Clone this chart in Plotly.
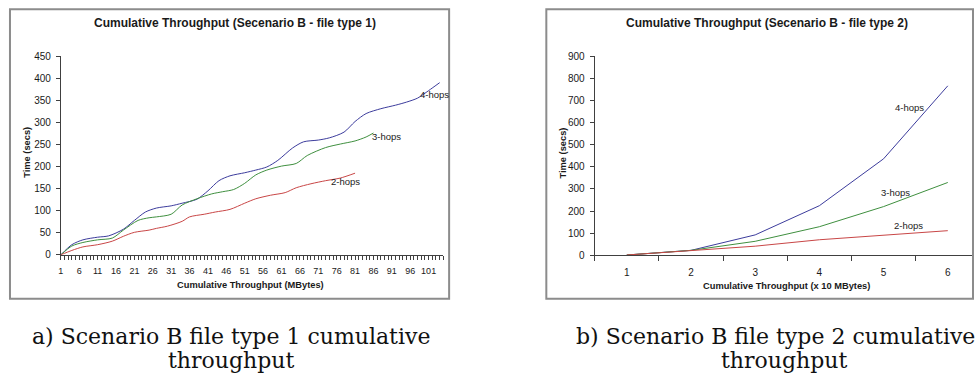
import plotly.graph_objects as go

# ---------------- data ----------------
# Panel a) : cumulative throughput (MBytes) vs time (secs), file type 1
a_hop4_x = [1, 4, 7, 11, 14, 18, 21, 24, 27, 31, 34, 38, 41, 44, 47, 51, 54, 57, 60, 64, 67, 71, 74, 78, 81, 84, 88, 92, 95, 98, 101, 104]
a_hop4_y = [0, 23, 34, 40, 43, 58, 78, 97, 106, 111, 117, 126, 145, 168, 179, 186, 192, 199, 214, 242, 256, 260, 265, 278, 302, 320, 331, 339, 346, 355, 372, 390]
a_hop3_x = [1, 4, 7, 11, 15, 18, 22, 25, 27, 31, 34, 38, 42, 45, 48, 51, 54, 57, 61, 65, 68, 73, 77, 81, 84, 86]
a_hop3_y = [0, 20, 28, 34, 38, 56, 78, 84, 86, 92, 113, 127, 138, 143, 148, 162, 181, 192, 201, 207, 225, 243, 251, 258, 267, 276]
a_hop2_x = [1, 4, 7, 11, 15, 18, 21, 25, 27, 30, 34, 36, 40, 43, 47, 51, 54, 58, 62, 65, 69, 73, 77, 81]
a_hop2_y = [0, 10, 18, 23, 31, 42, 51, 56, 60, 65, 76, 86, 92, 97, 103, 117, 127, 135, 141, 152, 161, 168, 174, 185]
a_xticks = [1, 6, 11, 16, 21, 26, 31, 36, 41, 46, 51, 56, 61, 66, 71, 76, 81, 86, 91, 96, 101]
a_yticks = [0, 50, 100, 150, 200, 250, 300, 350, 400, 450]

# Panel b) : cumulative throughput (x 10 MBytes) vs time (secs), file type 2
b_cats = [1, 2, 3, 4, 5, 6]
b_hop4 = [1, 22, 92, 224, 436, 766]
b_hop3 = [1, 22, 63, 129, 220, 329]
b_hop2 = [1, 21, 41, 70, 92, 111]
b_yticks = [0, 100, 200, 300, 400, 500, 600, 700, 800, 900]

series_names = ["4-hops", "3-hops", "2-hops"]
series_colors = ["#3c3c9c", "#3f8f3f", "#c84646"]

# ---------------- layout helpers ----------------
W, H = 975, 380
def px(x):
    return x / W
def py(y):
    return 1 - y / H

AX = "#404040"
TXT = "#1a1a1a"
SANS = "Liberation Sans, Arial, sans-serif"
SERIF = "DejaVu Serif, serif"

fig = go.Figure()

for xs, ys, name, col in zip([a_hop4_x, a_hop3_x, a_hop2_x], [a_hop4_y, a_hop3_y, a_hop2_y], series_names, series_colors):
    fig.add_trace(go.Scatter(x=xs, y=ys, mode="lines", name=name,
                             line=dict(color=col, width=1, shape="spline", smoothing=0.8),
                             xaxis="x", yaxis="y", showlegend=False, hoverinfo="skip"))
for ys, name, col in zip([b_hop4, b_hop3, b_hop2], series_names, series_colors):
    fig.add_trace(go.Scatter(x=b_cats, y=ys, mode="lines", name=name,
                             line=dict(color=col, width=1),
                             xaxis="x2", yaxis="y2", showlegend=False, hoverinfo="skip"))

axis_common = dict(showgrid=False, zeroline=False, showline=True, linecolor=AX, linewidth=1,
                   ticks="outside", tickcolor=AX, tickwidth=1, fixedrange=True)

fig.update_layout(
    width=W, height=H, margin=dict(l=0, r=0, t=0, b=0),
    paper_bgcolor="white", plot_bgcolor="white",
    xaxis=dict(axis_common, domain=[px(58), px(441.7)], range=[1, 105], anchor="y",
               tickmode="array", tickvals=a_xticks, ticktext=[str(v) for v in a_xticks],
               ticklen=4, tickfont=dict(family=SANS, size=9, color=TXT), ticklabelstandoff=3,
               minor=dict(tickmode="linear", tick0=1, dtick=1, ticks="outside", ticklen=4,
                          tickcolor=AX, tickwidth=1, showgrid=False)),
    yaxis=dict(axis_common, domain=[py(257.3), py(52.7)], range=[0, 450], anchor="x",
               tickmode="array", tickvals=a_yticks, ticklen=4,
               tickfont=dict(family=SANS, size=10, color=TXT), ticklabelstandoff=3),
    xaxis2=dict(axis_common, domain=[px(593.5), px(973)], range=[0.5, 0.5 + (973 - 593.5) / 64.4],
                anchor="y2", tickmode="array", tickvals=b_cats, ticktext=[str(v) for v in b_cats],
                ticks="", tickfont=dict(family=SANS, size=10, color=TXT), ticklabelstandoff=8,
                minor=dict(tickmode="linear", tick0=0.5, dtick=1, ticks="outside", ticklen=5,
                           tickcolor=AX, tickwidth=1, showgrid=False)),
    yaxis2=dict(axis_common, domain=[py(257.7), py(52.7)], range=[0, 900], anchor="x2",
                tickmode="array", tickvals=b_yticks, ticklen=4,
                tickfont=dict(family=SANS, size=10, color=TXT), ticklabelstandoff=3),
)

# panel borders
for x0, x1 in [(7, 447.5), (545, 973)]:
    fig.add_shape(type="rect", xref="paper", yref="paper",
                  x0=px(x0), x1=px(x1), y0=py(302.5), y1=py(4.5),
                  line=dict(color="#8c8c8c", width=2), fillcolor="rgba(0,0,0,0)", layer="above")

ann = []
def text(x, y, s, size, bold=False, angle=0, family=SANS, color=TXT):
    ann.append(dict(x=px(x), y=py(y), xref="paper", yref="paper", text=s, showarrow=False,
                    textangle=angle, xanchor="center", yanchor="middle",
                    font=dict(family=family, size=size, color=color, weight="bold" if bold else "normal")))

# titles
text(233, 19, "Cumulative Throughput (Secenario B - file type 1)", 12, bold=True)
text(766.7, 19, "Cumulative Throughput (Secenario B - file type 2)", 12, bold=True)
# axis titles
text(248, 288, "Cumulative Throughput (MBytes)", 9.3, bold=True)
text(786, 289.5, "Cumulative Throughput (x 10 MBytes)", 9.3, bold=True)
text(23.3, 152, "Time (secs)", 9.3, bold=True, angle=-90)
text(561.7, 152, "Time (secs)", 9.3, bold=True, angle=-90)
# captions
text(228.5, 341, "a) Scenario B file type 1 cumulative", 22, family=SERIF, color="#111")
text(228.5, 366, "throughput", 22, family=SERIF, color="#111")
text(775, 341, "b) Scenario B file type 2 cumulative", 22, family=SERIF, color="#111")
text(783, 366, "throughput", 22, family=SERIF, color="#111")

# series labels (data coordinates)
a_label_pos = [(102.5, 363), (89.6, 267), (78.5, 166)]
b_label_pos = [(5.40, 667), (5.18, 283), (5.39, 133)]
for (lx, ly), name in zip(a_label_pos, series_names):
    ann.append(dict(x=lx, y=ly, xref="x", yref="y", text=name, showarrow=False,
                    font=dict(family=SANS, size=9.5, color="#222")))
for (lx, ly), name in zip(b_label_pos, series_names):
    ann.append(dict(x=lx, y=ly, xref="x2", yref="y2", text=name, showarrow=False,
                    font=dict(family=SANS, size=9.5, color="#222")))

fig.update_layout(annotations=ann)
fig.write_html("out.html")
